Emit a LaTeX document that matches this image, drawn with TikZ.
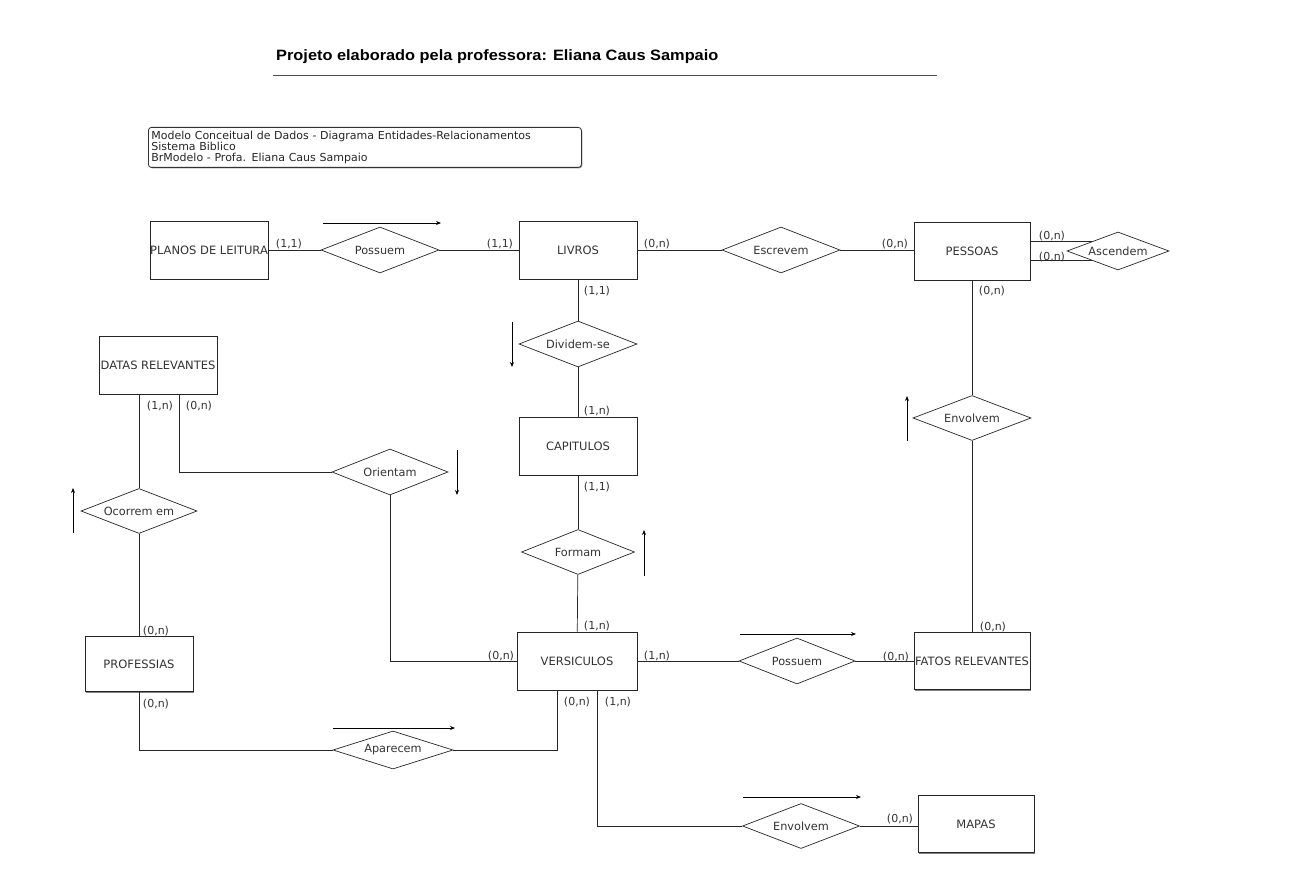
\documentclass[tikz,border=0pt]{standalone}
\usepackage{fontspec}
\setmainfont{DejaVu Sans}
\newfontfamily\titlefont[FakeStretch=1.09]{Liberation Sans}
\usetikzlibrary{shapes.geometric,shadows,arrows.meta}
\begin{document}
\begin{tikzpicture}[x=1pt,y=-1pt,
  entity/.style={draw=black!85, line width=0.9pt, fill=white, minimum width=118pt, minimum height=58pt,
    inner sep=0pt, font=\fontsize{11.5}{13}\selectfont, text=black!80,
    drop shadow={shadow xshift=1.3pt, shadow yshift=-1.3pt, fill=black!50, opacity=1}},
  rel/.style={draw=black!85, line width=0.7pt, fill=white, diamond, aspect=2.5, minimum width=118pt,
    minimum height=46pt, inner sep=0pt, font=\fontsize{11.3}{13}\selectfont, text=black!80},
  card/.style={font=\fontsize{11}{12}\selectfont, text=black!80, inner sep=0pt},
  conn/.style={draw=black!85, line width=0.7pt},
  dirarrow/.style={draw=black, line width=0.8pt, -{Stealth[length=5pt,width=4pt]}},
]
\useasboundingbox[fill=white] (0,0) rectangle (1306,890);

% title
\node[anchor=west, inner sep=0pt, font=\titlefont\bfseries\fontsize{15}{17}\selectfont] (title) at (276,57)
  {Projeto elaborado pela professora: Eliana Caus Sampaio};
\coordinate (tl1) at (273,75);
\coordinate (tl2) at (937,75);
\draw[black!70, line width=0.7pt] (tl1) -- (tl2);

% info box
\node[draw=black!80, fill=white, line width=0.8pt, rounded corners=3pt, anchor=north west, minimum width=433pt,
  minimum height=40pt, text width=427pt, align=left, inner sep=3pt,
  font=\fontsize{11}{11}\selectfont, text=black!85,
  drop shadow={shadow xshift=1pt, shadow yshift=-1pt, fill=black!40, opacity=1}] (info) at (148,127)
  {Modelo Conceitual de Dados - Diagrama Entidades-Relacionamentos\\Sistema Biblico\\BrModelo - Profa. Eliana Caus Sampaio};

% entities
\node[entity] (planos) at (209,250) {PLANOS DE LEITURA};
\node[entity] (livros) at (578,250) {LIVROS};
\node[entity, minimum width=116pt] (pessoas) at (972,251) {PESSOAS};
\node[entity] (datas) at (158,365) {DATAS RELEVANTES};
\node[entity] (capitulos) at (578,446) {CAPITULOS};
\node[entity, minimum width=120pt] (versiculos) at (577,661) {VERSICULOS};
\node[entity, minimum width=108pt, minimum height=55pt] (professias) at (139,664) {PROFESSIAS};
\node[entity, minimum width=116pt, minimum height=57pt] (fatos) at (972,661) {FATOS RELEVANTES};
\node[entity, minimum width=116pt, minimum height=57pt] (mapas) at (976,824) {MAPAS};

% relationships
\node[rel] (possuem1) at (380,250) {Possuem};
\node[rel] (escrevem) at (781,250) {Escrevem};
\node[rel, minimum width=102pt, minimum height=38pt] (ascendem) at (1118,251) {Ascendem};
\node[rel] (dividem) at (578,344) {Dividem-se};
\node[rel, minimum width=116pt] (orientam) at (390,472) {Orientam};
\node[rel, minimum width=116pt, minimum height=45pt] (ocorrem) at (139,511) {Ocorrem em};
\node[rel, minimum height=45pt] (envolvem1) at (972,418) {Envolvem};
\node[rel, minimum width=113pt, minimum height=45pt] (formam) at (578,552) {Formam};
\node[rel, minimum width=116pt] (possuem2) at (797,661) {Possuem};
\node[rel, minimum width=120pt, minimum height=38pt] (aparecem) at (393,750) {Aparecem};
\node[rel, minimum width=117pt, minimum height=45pt] (envolvem2) at (801,826) {Envolvem};

% connectors
\draw[conn] (planos) -- (possuem1);
\draw[conn] (possuem1) -- (livros);
\draw[conn] (livros) -- (escrevem);
\draw[conn] (escrevem) -- (escrevem -| pessoas.west);
\draw[conn] (ascendem.north west -| pessoas.east) -- (ascendem.north west);
\draw[conn] (ascendem.south west -| pessoas.east) -- (ascendem.south west);
\draw[conn] (pessoas) -- (envolvem1);
\draw[conn] (envolvem1) -- (fatos);
\draw[conn] (livros) -- (dividem);
\draw[conn] (dividem) -- (capitulos);
\draw[conn] (capitulos) -- (formam);
\draw[conn] (formam) -- (versiculos);
\draw[conn] (versiculos) -- (possuem2);
\draw[conn] (possuem2) -- (fatos);
\draw[conn] (datas.south -| ocorrem.north) -- (ocorrem.north);
\draw[conn] (ocorrem) -- (professias);
\draw[conn] ([xshift=21pt]datas.south) |- (orientam.west);
\draw[conn] (orientam.south) |- (versiculos.west);
\draw[conn] (professias.south) |- (aparecem.west);
\draw[conn] (aparecem.east) -| ([xshift=-20pt]versiculos.south);
\draw[conn] ([xshift=20pt]versiculos.south) |- (envolvem2.west);
\draw[conn] (envolvem2.east) -- (envolvem2.east -| mapas.west);

% cardinalities
\node[card] (c1) at (289,244) {(1,1)};
\node[card] (c2) at (500,244) {(1,1)};
\node[card] (c3) at (657,244) {(0,n)};
\node[card] (c4) at (895,244) {(0,n)};
\node[card] (c5) at (1052,236) {(0,n)};
\node[card] (c6) at (1052,257) {(0,n)};
\node[card] (c7) at (992,291) {(0,n)};
\node[card] (c8) at (597,291) {(1,1)};
\node[card] (c9) at (597,411) {(1,n)};
\node[card] (c10) at (597,487) {(1,1)};
\node[card] (c11) at (597,626) {(1,n)};
\node[card] (c12) at (160,406) {(1,n)};
\node[card] (c13) at (199,406) {(0,n)};
\node[card] (c14) at (156,631) {(0,n)};
\node[card] (c15) at (156,704) {(0,n)};
\node[card] (c16) at (501,656) {(0,n)};
\node[card] (c17) at (657,656) {(1,n)};
\node[card] (c18) at (896,657) {(0,n)};
\node[card] (c19) at (993,627) {(0,n)};
\node[card] (c20) at (577,702) {(0,n)};
\node[card] (c21) at (618,702) {(1,n)};
\node[card] (c22) at (900,819) {(0,n)};

% reading-direction arrows
\coordinate (a1s) at (323,223); \coordinate (a1e) at (441,223);
\coordinate (a2s) at (512,322); \coordinate (a2e) at (512,367);
\coordinate (a3s) at (457,450); \coordinate (a3e) at (457,495);
\coordinate (a4s) at (73,533);  \coordinate (a4e) at (73,488);
\coordinate (a5s) at (644,576); \coordinate (a5e) at (644,530);
\coordinate (a6s) at (907,441); \coordinate (a6e) at (907,396);
\coordinate (a7s) at (740,634); \coordinate (a7e) at (856,634);
\coordinate (a8s) at (333,728); \coordinate (a8e) at (455,728);
\coordinate (a9s) at (743,797); \coordinate (a9e) at (861,797);
\foreach \a in {1,...,9} {\draw[dirarrow] (a\a s) -- (a\a e);}
\end{tikzpicture}
\end{document}
